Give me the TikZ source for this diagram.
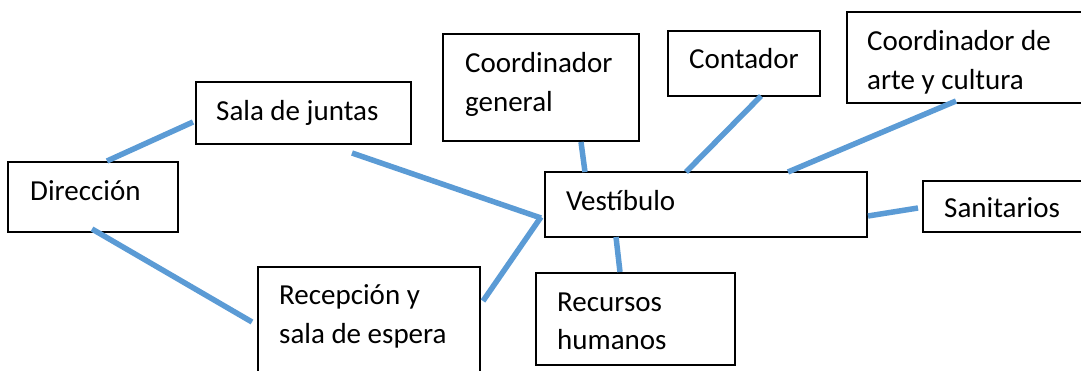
\documentclass[tikz,border=0pt]{standalone}
\usepackage{fontspec}
\setmainfont{Carlito}
\usetikzlibrary{calc}
\definecolor{connblue}{HTML}{5B9BD5}
\begin{document}
\begin{tikzpicture}[x=1pt,y=-1pt,
  box/.style={draw=black, line width=1.5pt, fill=white, inner sep=0pt, outer sep=0pt, anchor=north west},
  lbl/.style={anchor=base west, inner sep=0pt, text width=260pt, align=flush left,
    font=\fontsize{29}{38.5}\selectfont,
    execute at begin node={\setlength{\baselineskip}{38.5pt}}},
  conn/.style={draw=connblue, line width=5.5pt, line cap=butt}]
\useasboundingbox (0,0) rectangle (1081,371);
\clip (0,0) rectangle (1081,371);
% boxes
\node[box, minimum width=170pt, minimum height=70pt]  (dir)  at (8,162)   {};
\node[box, minimum width=215pt, minimum height=62pt]  (sala) at (196,82)  {};
\node[box, minimum width=196pt, minimum height=107pt] (cg)   at (443,34)  {};
\node[box, minimum width=152pt, minimum height=65pt]  (cont) at (668,31)  {};
\node[box, minimum width=250pt, minimum height=91pt]  (arte) at (847,12)  {};
\node[box, minimum width=322pt, minimum height=65pt]  (vest) at (545,172) {};
\node[box, minimum width=170pt, minimum height=51pt]  (san)  at (923,181) {};
\node[box, minimum width=222pt, minimum height=120pt] (rec)  at (258,267) {};
\node[box, minimum width=199pt, minimum height=92pt]  (rh)   at (536,273) {};
% labels
\node[lbl] (tdir)  at ($(dir.north west)+(22,38.5)$)  {Dirección};
\node[lbl] (tsala) at ($(sala.north west)+(20,38.5)$) {Sala de juntas};
\node[lbl] (tcg)   at ($(cg.north west)+(22,39)$)     {Coordinador\\general};
\node[lbl] (tcont) at ($(cont.north west)+(21,38)$)   {Contador};
\node[lbl] (tarte) at ($(arte.north west)+(20,39)$)   {Coordinador de\\arte y cultura};
\node[lbl] (tvest) at ($(vest.north west)+(21,39)$)   {Vestíbulo};
\node[lbl] (tsan)  at ($(san.north west)+(21,37)$)    {Sanitarios};
\node[lbl] (trec)  at ($(rec.north west)+(21,38)$)    {Recepción y\\sala de espera};
\node[lbl] (trh)   at ($(rh.north west)+(21,38)$)     {Recursos\\humanos};
% connectors
\draw[conn] ($(dir.north west)+(99,-1)$)   -- ($(sala.north west)+(-3,40)$);
\draw[conn] ($(sala.north west)+(156,71)$) -- ($(vest.north west)+(-4,46)$);
\draw[conn] ($(rec.north west)+(225,34)$)  -- ($(vest.north west)+(-4,45)$);
\draw[conn] ($(dir.north west)+(84,67)$)   -- ($(rec.north west)+(-6,55)$);
\draw[conn] ($(cg.north west)+(138,108)$)  -- ($(vest.north west)+(40,0)$);
\draw[conn] ($(cont.north west)+(93,65)$)  -- ($(vest.north west)+(141,0)$);
\draw[conn] ($(arte.north west)+(109,89)$) -- ($(vest.north west)+(243,0)$);
\draw[conn] ($(vest.north west)+(323,44)$) -- ($(san.north west)+(-5,27)$);
\draw[conn] ($(vest.north west)+(71,65)$)  -- ($(rh.north west)+(84,-1)$);
\end{tikzpicture}
\end{document}
